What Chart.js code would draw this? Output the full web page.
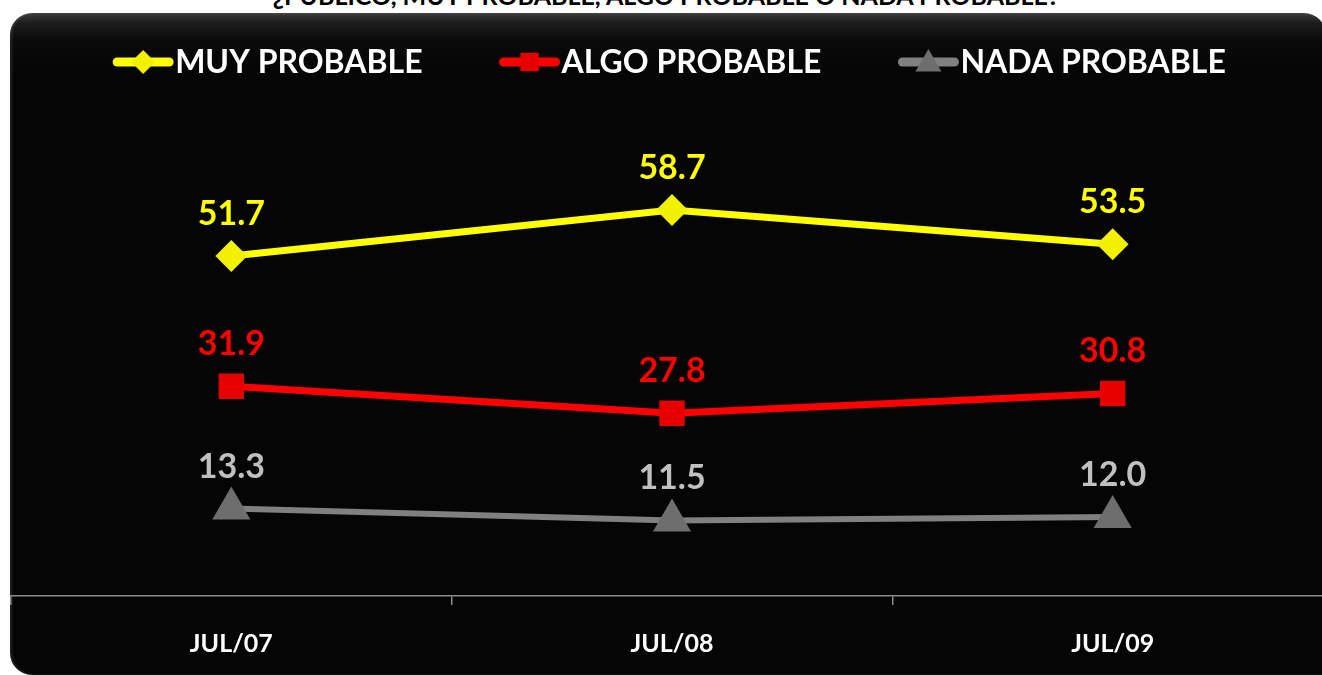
<!DOCTYPE html>
<html>
<head>
<meta charset="utf-8">
<script src="https://cdn.jsdelivr.net/npm/chart.js@4/dist/chart.umd.min.js"></script>
<style>
    html, body { margin: 0; padding: 0; background: #fff; overflow: hidden; width: 1322px; height: 675px; }
    #title { position: absolute; left: 0; top: -20px; width: 1332px; text-align: center;
             font: bold 25px Lato, sans-serif; color: #000; white-space: nowrap; }
    #panel { position: absolute; left: 10px; top: 13px; width: 1316px; height: 662px; border-radius: 22px 22px 0 22px;
             background: linear-gradient(to bottom, #3c3c3c 0px, #1c1c1c 10px, #0a0a0a 28px, #050505 60px, #050505 100%);
             box-shadow: inset 2px 0 3px rgba(255,255,255,0.12); }
    #chart { position: absolute; left: 0; top: 0; }
</style>
</head>
<body>
<div id="title">¿PÚBLICO, MUY PROBABLE, ALGO PROBABLE O NADA PROBABLE?</div>
<div id="panel"></div>
<canvas id="chart" width="1340" height="675"></canvas>
<script>
const categories = ["JUL/07", "JUL/08", "JUL/09"];
const seriesNames = ["MUY PROBABLE", "ALGO PROBABLE", "NADA PROBABLE"];
const muyProbable = [51.7, 58.7, 53.5];
const algoProbable = [31.9, 27.8, 30.8];
const nadaProbable = [13.3, 11.5, 12.0];

const FONT = "Lato, 'Open Sans', sans-serif";

function drawMarker(ctx, style, x, y, r, fill) {
    ctx.save();
    ctx.fillStyle = fill;
    ctx.beginPath();
    if (style === "rectRot") {
        ctx.moveTo(x - r, y); ctx.lineTo(x, y - r); ctx.lineTo(x + r, y); ctx.lineTo(x, y + r);
    } else if (style === "rect") {
        const s = r * Math.SQRT1_2;
        ctx.rect(x - s, y - s, 2 * s, 2 * s);
    } else {
        ctx.moveTo(x, y - r);
        ctx.lineTo(x + r * Math.sin(Math.PI * 2 / 3), y - r * Math.cos(Math.PI * 2 / 3));
        ctx.lineTo(x + r * Math.sin(Math.PI * 4 / 3), y - r * Math.cos(Math.PI * 4 / 3));
    }
    ctx.closePath();
    ctx.fill();
    ctx.restore();
}

// legend: line + marker + label, centred above the plot
const legendLine = {
    id: "legendLine",
    afterDraw(chart) {
        const ctx = chart.ctx;
        const y = 62, lineW = 58, gap = 78;
        ctx.save();
        ctx.font = "bold 32px " + FONT;
        const items = chart.data.datasets.map(ds => ({ ds, w: lineW + 3 + ctx.measureText(ds.label).width }));
        const total = items.reduce((a, it) => a + it.w, 0) + gap * (items.length - 1);
        let x = 670 - total / 2;
        items.forEach(it => {
            const ds = it.ds;
            ctx.strokeStyle = ds.borderColor;
            ctx.lineWidth = 9;
            ctx.lineCap = "round";
            ctx.beginPath();
            ctx.moveTo(x + 3, y); ctx.lineTo(x + lineW - 3, y);
            ctx.stroke();
            drawMarker(ctx, ds.pointStyle, x + lineW / 2, y + (ds.pointStyle === "triangle" ? 2 : 0),
                ds.pointStyle === "rect" ? 13 : (ds.pointStyle === "triangle" ? 15 : 12), ds.pointBackgroundColor);
            ctx.fillStyle = "#fff";
            ctx.textBaseline = "middle";
            ctx.textAlign = "left";
            ctx.fillText(ds.label, x + lineW + 3, y + 1);
            x += it.w + gap;
        });
        ctx.restore();
    }
};

// value labels above each point
const valueLabels = {
    id: "valueLabels",
    afterDatasetsDraw(chart) {
        const ctx = chart.ctx;
        ctx.save();
        ctx.font = "bold 34px " + FONT;
        ctx.textAlign = "center";
        ctx.textBaseline = "middle";
        chart.data.datasets.forEach((ds, i) => {
            chart.getDatasetMeta(i).data.forEach((pt, j) => {
                ctx.fillStyle = ds.labelColor;
                ctx.fillText(ds.data[j].toFixed(1), pt.x, pt.y - 42);
            });
        });
        ctx.restore();
    }
};

new Chart(document.getElementById("chart"), {
    type: "line",
    data: {
        labels: categories,
        datasets: [
            { label: seriesNames[0], data: muyProbable, borderColor: "#ffff00", pointBackgroundColor: "#f2f200",
              pointBorderColor: "#f2f200", pointStyle: "rectRot", pointRadius: 11, borderWidth: 7, labelColor: "#ffff00" },
            { label: seriesNames[1], data: algoProbable, borderColor: "#ff0000", pointBackgroundColor: "#e60000",
              pointBorderColor: "#e60000", pointStyle: "rect", pointRadius: 13, borderWidth: 7, labelColor: "#ff0000" },
            { label: seriesNames[2], data: nadaProbable, borderColor: "#808080", pointBackgroundColor: "#6e6e6e",
              pointBorderColor: "#6e6e6e", pointStyle: "triangle", pointRadius: 16, borderWidth: 6, labelColor: "#c0c0c0" }
        ]
    },
    options: {
        responsive: false,
        animation: false,
        layout: { autoPadding: false, padding: { left: 11, right: 7, top: 70, bottom: 0 } },
        plugins: { legend: { display: false }, tooltip: { enabled: false } },
        elements: { line: { tension: 0 }, point: { borderWidth: 1 } },
        scales: {
            y: { min: 0, max: 80, display: false },
            x: {
                offset: true,
                afterFit(scale) { scale.height = 79; },
                border: { display: true, color: "#8c8c8c", width: 1.5 },
                grid: { display: true, drawOnChartArea: false, offset: true, tickLength: 9, color: "#8c8c8c", lineWidth: 1.5 },
                ticks: { color: "#fff", padding: 24, font: { family: FONT, size: 25, weight: "bold" } }
            }
        }
    },
    plugins: [valueLabels, legendLine]
});
</script>
</body>
</html>
